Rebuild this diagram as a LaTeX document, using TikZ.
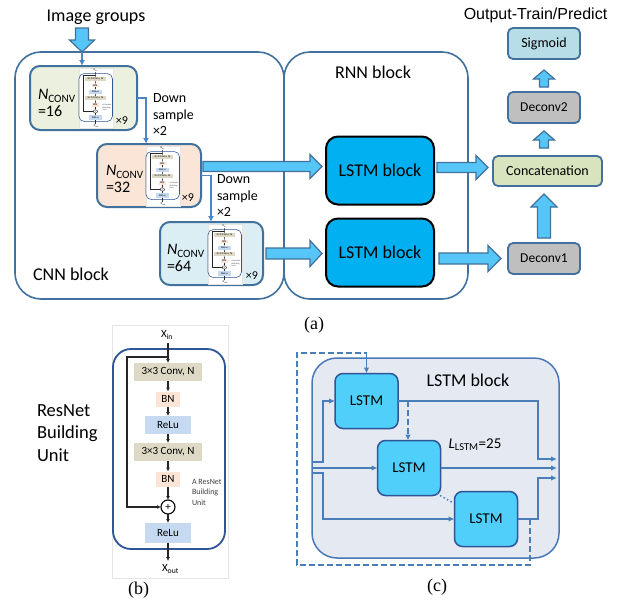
\documentclass[tikz,border=0pt]{standalone}
\usepackage{fontspec}
\setmainfont{Carlito}
\newfontfamily\capserif{Liberation Serif}
\newfontfamily\capsans{Liberation Sans}
\usetikzlibrary{arrows.meta,calc}

\definecolor{edgeblue}{HTML}{41719C}
\definecolor{fatfill}{HTML}{55C6F7}
\definecolor{linkblue}{HTML}{4A86C8}
\definecolor{flowblue}{HTML}{4A7EBB}
\definecolor{greenfill}{HTML}{EBF1DE}
\definecolor{peachfill}{HTML}{FBE5D6}
\definecolor{icefill}{HTML}{DAEEF3}
\definecolor{lstmfill}{HTML}{00B0F0}
\definecolor{concfill}{HTML}{D7E4BD}
\definecolor{greyfill}{HTML}{BFBFBF}
\definecolor{sigfill}{HTML}{B7DEE8}
\definecolor{unitblue}{HTML}{2E5597}
\definecolor{convfill}{HTML}{DDD9C4}
\definecolor{bnfill}{HTML}{FCE4D6}
\definecolor{relufill}{HTML}{C5D9F1}
\definecolor{cellfill}{HTML}{50CFFA}
\definecolor{panelfill}{HTML}{E4E9F2}
\definecolor{paneledge}{HTML}{4A78B5}
\definecolor{celledge}{HTML}{2F5597}

% block arrow from #1 to #2: shaft half width #3, head half width #4, head length #5 (pt)
\newcommand\fatarrow[5]{%
  \path let \p1=(#1), \p2=(#2) in \pgfextra{\xdef\faX{\x1}\xdef\faY{\y1}\xdef\fbX{\x2}\xdef\fbY{\y2}};%
  \pgfmathsetmacro\faAng{atan2(\fbY-\faY,\fbX-\faX)}%
  \pgfmathsetmacro\faLen{veclen(\fbX-\faX,\fbY-\faY)}%
  \pgfmathsetmacro\faBase{\faLen-#5}%
  \draw[fatbody, shift={(\faX,\faY)}, rotate=\faAng]
    (0pt,#3pt) -- (\faBase pt,#3pt) -- (\faBase pt,#4pt) -- (\faLen pt,0pt)
    -- (\faBase pt,-#4pt) -- (\faBase pt,-#3pt) -- (0pt,-#3pt) -- cycle;%
}

\tikzset{
  ruconv/.style={fill=convfill, minimum width=68, minimum height=18, font=\fontsize{11}{13}\selectfont},
  rubn/.style={fill=bnfill, minimum width=24, minimum height=15, font=\fontsize{11}{13}\selectfont},
  rurelu/.style={fill=relufill, minimum width=46, minimum height=18, font=\fontsize{11}{13}\selectfont},
  rutext/.style={font=\fontsize{11}{13}\selectfont},
  ruplus/.style={circle, draw=black, line width=1.1*\ruw, fill=white, minimum size=14, font=\fontsize{11}{13}\selectfont},
  ruline/.style={draw=black!85, line width=1.1*\ruw},
  ruflow/.style={ruline, -{Latex[length=\rutip, width=\rutip]}},
  % a ResNet building unit; #1 scales line widths and corner radii
  resunit/.pic={
    \pgfmathsetlengthmacro\ruw{#1*1pt}%
    \pgfmathsetlengthmacro\rutip{#1*4pt}%
    \pgfmathsetmacro\rurc{#1*18}%
    \path[draw=black!10, fill=white, line width=0.6*\ruw] (-58,-126) rectangle (58,127);
    \node[rutext, anchor=west] (-xin) at (-9,-116) {X\textsubscript{in}};
    \draw[draw=unitblue, line width=1.8*\ruw, rounded corners=\rurc] (-57,-102) rectangle (55,98);
    \node[ruconv] (-c1) at (-2,-79) {3×3 Conv, N};
    \node[rubn] (-b1) at (-2,-52) {BN};
    \node[rurelu] (-r1) at (-2,-26) {ReLu};
    \node[ruconv] (-c2) at (-2,1) {3×3 Conv, N};
    \node[rubn] (-b2) at (-2,28) {BN};
    \node[ruplus] (-p) at (-2,56) {+};
    \node[rurelu, minimum height=20] (-r2) at (-2,82) {ReLu};
    \node[rutext, anchor=west] (-xout) at (-8,118) {X\textsubscript{out}};
    \node[anchor=north west, align=left, text=black!75, font=\fontsize{8}{10.5}\selectfont] (-note) at (22,28) {A ResNet\\Building\\Unit};
    \coordinate (-top) at (-2,-108);
    \coordinate (-bot) at (-2,110);
    \coordinate (-split) at (-2,-94);
    \coordinate (-skip) at (-43,-94);
    \draw[ruflow] (-top) -- (-c1);
    \draw[ruflow] (-c1) -- (-b1);
    \draw[ruflow] (-b1) -- (-r1);
    \draw[ruflow] (-r1) -- (-c2);
    \draw[ruflow] (-c2) -- (-b2);
    \draw[ruflow] (-b2) -- (-p);
    \draw[ruflow] (-p) -- (-r2);
    \draw[ruflow] (-r2) -- (-bot);
    \draw[ruflow, line width=1.6*\ruw] (-split) -- (-skip) |- (-p);
  },
}

\begin{document}
\begin{tikzpicture}[x=1pt, y=-1pt,
  every node/.style={inner sep=0pt, outer sep=0pt},
  outerblock/.style={draw=edgeblue, line width=1.6pt, rounded corners=26pt},
  cnnbox/.style={draw=edgeblue, line width=2pt, rounded corners=10pt},
  bigcell/.style={draw=black, line width=2pt, fill=lstmfill, rounded corners=12pt,
    minimum width=108, minimum height=68, font=\fontsize{18}{21}\selectfont},
  headbox/.style={draw=edgeblue, line width=1.8pt, rounded corners=5pt,
    minimum width=72, minimum height=31, font=\fontsize{13.5}{16}\selectfont},
  fatbody/.style={draw=edgeblue, line width=1.2pt, fill=fatfill, line join=miter},
  link/.style={draw=linkblue, line width=1.5pt, -{Latex[length=6pt,width=6pt]}},
  bigtext/.style={font=\fontsize{18}{21}\selectfont},
  downlbl/.style={anchor=west, align=left, font=\fontsize{14}{16.5}\selectfont},
  nconv/.style={anchor=west, align=left, font=\fontsize{16}{17}\selectfont},
  timesnine/.style={font=\fontsize{12}{14}\selectfont},
  caption/.style={font=\capserif\fontsize{18}{21}\selectfont},
  panel/.style={draw=paneledge, line width=1.5pt, fill=panelfill, rounded corners=25pt},
  cell/.style={draw=celledge, line width=1.5pt, fill=cellfill, rounded corners=8pt,
    minimum width=63, minimum height=55, font=\fontsize{15}{18}\selectfont},
  flow/.style={draw=flowblue, line width=1.3pt},
  flowarr/.style={flow, -{Latex[length=6pt,width=5.5pt]}},
  flowdash/.style={flow, dash pattern=on 6pt off 3pt},
  flowdot/.style={flow, line width=1.5pt, dash pattern=on 1.5pt off 2.5pt},
]
\useasboundingbox (0,0) rectangle (629,605);
\fill[white] (0,0) rectangle (629,605);

% ---------------- (a) overall network ----------------
\node[outerblock, minimum width=269, minimum height=247] (cnn) at (149.5,175.5) {};
\node[outerblock, minimum width=184, minimum height=247] (rnn) at (376,175.5) {};
\node[bigtext] (cnnlbl) at (71,274) {CNN block};
\node[bigtext] (rnnlbl) at (373,72) {RNN block};
\node[bigtext] (imglbl) at (96,17) {Image groups};

\node[cnnbox, fill=greenfill, minimum width=107, minimum height=64] (box1) at (83.5,98) {};
\node[cnnbox, fill=peachfill, minimum width=104, minimum height=63] (box2) at (149,175.5) {};
\node[cnnbox, fill=icefill, minimum width=103, minimum height=63] (box3) at (211.5,253.5) {};

\pic[xscale=0.3, yscale=0.24, transform shape] (t1) at (96,98) {resunit=0.3};
\pic[xscale=0.3, yscale=0.24, transform shape] (t2) at (163,176) {resunit=0.3};
\pic[xscale=0.3, yscale=0.24, transform shape] (t3) at (225,254) {resunit=0.3};

\node[nconv] (n1) at (38,103) {\textit{N}\textsubscript{CONV}\\=16};
\node[nconv] (n2) at (106,179) {\textit{N}\textsubscript{CONV}\\=32};
\node[nconv] (n3) at (167,258) {\textit{N}\textsubscript{CONV}\\=64};
\node[timesnine] (x1) at (122,121) {×9};
\node[timesnine] (x2) at (188,198) {×9};
\node[timesnine] (x3) at (252,276) {×9};

\coordinate (ds1) at (146,98);
\draw[link] (box1.east |- ds1) -- (ds1) -- (ds1 |- box2.north);
\node[downlbl] (dl1) at (153,115) {Down\\sample\\×2};
\coordinate (ds2) at (211,175.5);
\draw[link] (box2.east |- ds2) -- (ds2) -- (ds2 |- box3.north);
\node[downlbl] (dl2) at (217,196) {Down\\sample\\×2};

\coordinate (igs) at (82,28);
\fatarrow{igs}{igs |- cnn.north}{6.5}{12.5}{12}
\draw[link] (igs |- cnn.north) -- (igs |- box1.north);

\node[bigcell] (lstmA) at (380,170.5) {LSTM block};
\node[bigcell] (lstmB) at (380,252.5) {LSTM block};

\node[headbox, fill=concfill, minimum width=109, minimum height=30, font=\fontsize{14}{16}\selectfont] (concat) at (547.5,171) {Concatenation};
\node[headbox, fill=greyfill] (dec1) at (544,258.5) {Deconv1};
\node[headbox, fill=greyfill] (dec2) at (544,107.5) {Deconv2};
\node[headbox, fill=sigfill, font=\fontsize{14}{16}\selectfont] (sigm) at (544,43.5) {Sigmoid};
\node[font=\capsans\fontsize{16}{19}\selectfont] (outlbl) at (535.5,15) {Output-Train/Predict};

\coordinate (f1s) at ($(box2.east)+(2,-9)$);
\coordinate (f1e) at ($(lstmA.west |- f1s)+(-4,0)$);
\fatarrow{f1s}{f1e}{5}{12}{12}
\coordinate (f2s) at ($(box3.east)+(3,0)$);
\coordinate (f2e) at ($(lstmB.west |- f2s)+(-4,0)$);
\fatarrow{f2s}{f2e}{5.5}{13}{12}
\coordinate (f3s) at ($(lstmA.east)+(3,-3)$);
\coordinate (f3e) at ($(concat.west |- f3s)+(-5,0)$);
\fatarrow{f3s}{f3e}{5}{12}{12}
\coordinate (f4s) at ($(lstmB.east)+(5,6)$);
\coordinate (f4e) at ($(dec1.west |- f4s)+(-7,0)$);
\fatarrow{f4s}{f4e}{5.5}{13}{13}
\fatarrow{$(dec1.north)+(0,-5)$}{$(concat.south -| dec1.north)+(0,8)$}{6.5}{13}{13}
\fatarrow{$(concat.north -| dec2.south)+(0,-8)$}{$(dec2.south)+(0,8)$}{4.5}{10.5}{9}
\fatarrow{$(dec2.north)+(0,-5)$}{$(sigm.south)+(0,11)$}{4.5}{10.5}{9}

\node[caption] (capa) at (314,325) {(a)};

% ---------------- (b) ResNet building unit ----------------
\node[anchor=west, align=left, font=\fontsize{18.5}{22.5}\selectfont] (rblbl) at (37,433) {ResNet\\Building\\Unit};
\pic (unit) at (170,451) {resunit=1};
\node[caption] (capb) at (138.5,590) {(b)};

% ---------------- (c) LSTM block ----------------
\node[panel, minimum width=247, minimum height=200] (lpanel) at (435.5,458) {};
\node[bigtext] (lpanlbl) at (468,380) {LSTM block};
\node[cell] (c1) at (366.5,401) {LSTM};
\node[cell] (c2) at (409,468) {LSTM};
\node[cell] (c3) at (486,519) {LSTM};
\node[font=\fontsize{15}{18}\selectfont] (llbl) at (475,445) {\textit{L}\textsubscript{LSTM}=25};

\coordinate (in1) at (312,462);
\coordinate (in1c) at (323,462);
\coordinate (in2) at (312,468);
\coordinate (in3) at (312,473);
\coordinate (in3c) at (323,473);
\draw[flowarr] (in1) -- (in1c) |- (c1.west);
\draw[flowarr] (in2) -- (c2.west);
\draw[flowarr] (in3) -- (in3c) |- (c3.west);

\coordinate (j1) at (538,401);
\coordinate (j3) at (538,519);
\coordinate (out1) at (557,459);
\coordinate (out2) at (557,468);
\coordinate (out3) at (557,478);
\draw[flowarr] (c1.east) -- (j1) |- (out1);
\draw[flowarr] (c2.east) -- (out2);
\draw[flowarr] (c3.east) -- (j3) |- (out3);

\coordinate (d0) at (530,519);
\coordinate (d1) at (530,565);
\coordinate (d2) at (297,565);
\coordinate (d3) at (297,353);
\draw[flowdash] (d0) -- (d1) -- (d2) -- (d3) -- (d3 -| c1.north);
\draw[flowarr] (d3 -| c1.north) -- (c1.north);
\coordinate (d5) at (408,401);
\draw[flowdash, -{Latex[length=6pt,width=5.5pt]}] (d5) -- (d5 |- c2.north);
\draw[flowdot] ($(c2.south east)+(-4,-2)$) -- ($(c3.north west)+(-2,11)$);

\node[caption] (capc) at (437,587) {(c)};
\end{tikzpicture}
\end{document}
